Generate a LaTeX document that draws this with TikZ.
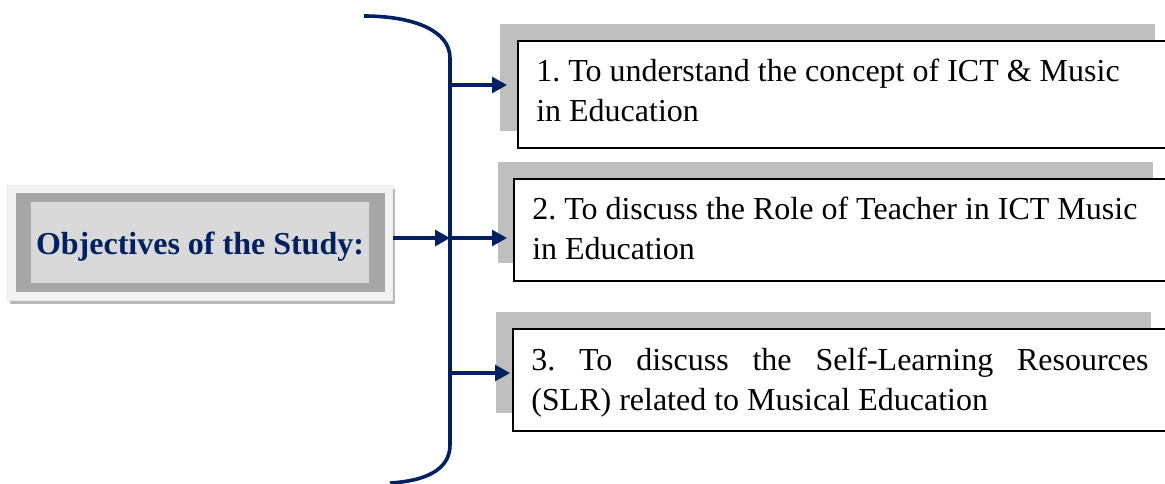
\documentclass[tikz,border=0pt]{standalone}
\usepackage{fontspec}
\setmainfont{Liberation Serif}
\usetikzlibrary{arrows.meta}
\definecolor{navy}{HTML}{002060}
\definecolor{backplate}{HTML}{BFBFBF}
\definecolor{paleframe}{HTML}{F2F2F2}
\definecolor{midframe}{HTML}{A6A6A6}
\definecolor{innerfill}{HTML}{D9D9D9}
\frenchspacing
\begin{document}
\begin{tikzpicture}[x=0.75pt,y=-0.75pt,
  panel/.style={draw=black,line width=1.2pt,fill=white,anchor=north west,
    inner sep=0pt,minimum width=490pt},
  goal/.style={anchor=north west,inner sep=0pt,align=left,
    font=\fontsize{24}{30}\selectfont},
  link/.style={draw=navy,line width=2.3pt,-{Triangle[length=11.25pt,width=12pt]}},
]
\useasboundingbox (0,0) rectangle (1165,483);

% title block: drop shadow, pale frame, grey frame, inner panel
\fill[midframe!80] (10,189) rectangle (395,304);
\node[anchor=north west,inner sep=0pt,minimum width=288.75pt,minimum height=86.25pt,
  fill=paleframe,draw=black!8,line width=0.6pt] (lbox) at (7,185) {};
\fill[midframe] (16,193) rectangle (385,292);
\fill[innerfill] (31,202) rectangle (369,283);
\node[anchor=base,inner sep=0pt,text=navy,
  font=\fontsize{24}{28}\selectfont\bfseries] (ltxt) at (200,254) {Objectives of the Study:};

% objective 1
\fill[backplate] (500,24) rectangle (1155,131);
\node[panel,minimum height=80.25pt] (box1) at (517,40) {};
\node[goal,xshift=14.25pt,yshift=-9.75pt] (t1) at (box1.north west)
  {\strut 1. To understand the concept of ICT \& Music\\in Education};

% objective 2
\fill[backplate] (498,162) rectangle (1153,263);
\node[panel,minimum height=76.5pt] (box2) at (513,178) {};
\node[goal,xshift=14.25pt,yshift=-9.75pt] (t2) at (box2.north west)
  {\strut 2. To discuss the Role of Teacher in ICT Music\\in Education};

% objective 3
\fill[backplate] (496,312) rectangle (1151,413);
\node[panel,minimum height=76.5pt] (box3) at (512,328) {};
\node[goal,xshift=14.25pt,yshift=-10.5pt] (t3) at (box3.north west)
  {\makebox[463pt][s]{\strut 3. To discuss the Self-Learning Resources}\\(SLR) related to Musical Education};

% curly bracket
\draw[navy,line width=2.7pt] (364,16) .. controls (412,16) and (450,30) .. (450,58)
  -- (450,445) .. controls (450,470) and (425,481) .. (390,483);
\coordinate (j1) at (450,85);
\coordinate (j2) at (450,238);
\coordinate (j3) at (450,373);

% connectors
\draw[link] (j2 -| lbox.east) -- (j2);
\draw[link,shorten >=7.5pt] (j1) -- (j1 -| box1.west);
\draw[link,shorten >=4.5pt] (j2) -- (j2 -| box2.west);
\draw[link,shorten >=1.5pt] (j3) -- (j3 -| box3.west);
\end{tikzpicture}
\end{document}
